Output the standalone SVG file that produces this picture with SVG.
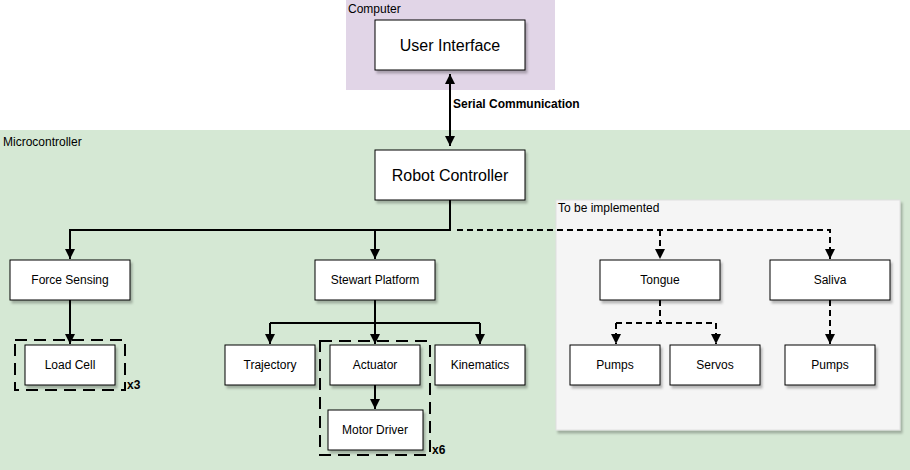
<svg xmlns="http://www.w3.org/2000/svg" width="910" height="470" viewBox="0 0 910 470">
<defs>
<filter id="sh" x="-10%" y="-10%" width="130%" height="140%">
<feDropShadow dx="2" dy="3" stdDeviation="1.2" flood-color="#000" flood-opacity="0.25"/>
</filter>
<marker id="ah" viewBox="0 0 10 10" refX="10" refY="5" markerWidth="5" markerHeight="5" markerUnits="strokeWidth" orient="auto-start-reverse">
<path d="M0,0 L10,5 L0,10 Z" fill="#000"/>
</marker>
</defs>
<style>
.node rect{fill:#fff;stroke:#000;stroke-width:1;filter:url(#sh)}
.node text{font-family:"Liberation Sans",Arial,sans-serif;font-size:12px;fill:#000;text-anchor:middle;dominant-baseline:central}
.big text{font-size:16px}
.lbl{font-family:"Liberation Sans",Arial,sans-serif;font-size:12px;fill:#000}
.conn path{fill:none;stroke:#000;stroke-width:2}
.conn .d{stroke-dasharray:6 4}
.grp{fill:none;stroke:#000;stroke-width:2;stroke-dasharray:12 7}
</style>
<rect x="346" y="0" width="209" height="90" fill="#e1d5e7"/>
<text class="lbl" x="348" y="13">Computer</text>
<rect x="0" y="130" width="910" height="340" fill="#d5e8d4"/>
<text class="lbl" x="3" y="146">Microcontroller</text>
<rect x="556" y="200" width="344" height="230" fill="#f5f5f5" stroke="#e0e0e0" filter="url(#sh)"/>
<text class="lbl" x="558" y="212" fill="#333">To be implemented</text>

<rect class="grp" x="15" y="340" width="110" height="50"/>
<text class="lbl" x="127" y="389" font-weight="bold" font-size="11">x3</text>
<rect class="grp" x="320" y="341" width="110" height="114"/>
<text class="lbl" x="432" y="454" font-weight="bold" font-size="11">x6</text>

<g class="conn">
<path d="M450,74 L450,146" marker-start="url(#ah)" marker-end="url(#ah)"/>
<path d="M450,200 L450,230 L70,230 L70,259" marker-end="url(#ah)"/>
<path d="M375,230 L375,259" marker-end="url(#ah)"/>
<path class="d" d="M457,230 L830,230 L830,259" marker-end="url(#ah)"/>
<path class="d" d="M660,230 L660,259" marker-end="url(#ah)"/>
<path d="M70,300 L70,344" marker-end="url(#ah)"/>
<path d="M375,300 L375,323 M270,323 L480,323"/>
<path d="M270,323 L270,344" marker-end="url(#ah)"/>
<path d="M375,323 L375,344" marker-end="url(#ah)"/>
<path d="M480,323 L480,344" marker-end="url(#ah)"/>
<path d="M375,385 L375,409" marker-end="url(#ah)"/>
<path class="d" d="M660,300 L660,323 M616,323 L716,323"/>
<path class="d" d="M616,323 L616,344" marker-end="url(#ah)"/>
<path class="d" d="M716,323 L716,344" marker-end="url(#ah)"/>
<path class="d" d="M830,300 L830,344" marker-end="url(#ah)"/>
</g>
<text class="lbl" x="453" y="108" font-weight="bold">Serial Communication</text>

<g id="user-interface" class="node big"><rect x="375" y="20" width="150" height="50"/><text x="450" y="45">User Interface</text></g>
<g id="robot-controller" class="node big"><rect x="375" y="150" width="150" height="50"/><text x="450" y="175">Robot Controller</text></g>
<g id="force-sensing" class="node"><rect x="10" y="260" width="120" height="40"/><text x="70" y="280">Force Sensing</text></g>
<g id="load-cell" class="node"><rect x="25" y="345" width="90" height="40"/><text x="70" y="365">Load Cell</text></g>
<g id="stewart-platform" class="node"><rect x="315" y="260" width="120" height="40"/><text x="375" y="280">Stewart Platform</text></g>
<g id="trajectory" class="node"><rect x="225" y="345" width="90" height="40"/><text x="270" y="365">Trajectory</text></g>
<g id="actuator" class="node"><rect x="330" y="345" width="90" height="40"/><text x="375" y="365">Actuator</text></g>
<g id="kinematics" class="node"><rect x="435" y="345" width="90" height="40"/><text x="480" y="365">Kinematics</text></g>
<g id="motor-driver" class="node"><rect x="328" y="410" width="95" height="40"/><text x="375" y="430">Motor Driver</text></g>
<g id="tongue" class="node"><rect x="600" y="260" width="120" height="40"/><text x="660" y="280">Tongue</text></g>
<g id="saliva" class="node"><rect x="770" y="260" width="120" height="40"/><text x="830" y="280">Saliva</text></g>
<g id="pumps-tongue" class="node"><rect x="570" y="345" width="90" height="40"/><text x="615" y="365">Pumps</text></g>
<g id="servos" class="node"><rect x="670" y="345" width="90" height="40"/><text x="715" y="365">Servos</text></g>
<g id="pumps-saliva" class="node"><rect x="785" y="345" width="90" height="40"/><text x="830" y="365">Pumps</text></g>
</svg>
